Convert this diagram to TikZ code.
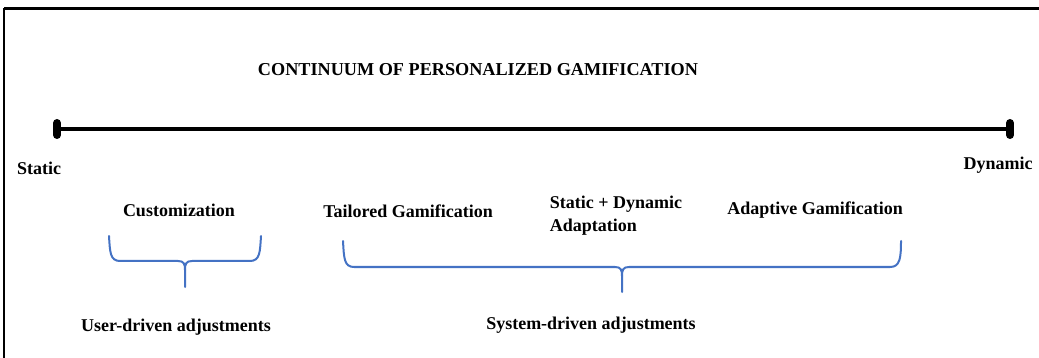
\documentclass[tikz,border=0pt]{standalone}
\usepackage{fontspec}
\setmainfont{Liberation Serif}
\definecolor{braceblue}{RGB}{68,114,196}
\begin{document}
\begin{tikzpicture}[x=1pt,y=-1pt,
  lbl/.style={font=\fontsize{18}{20}\selectfont\bfseries, inner sep=0pt, text=black},
  bracepath/.style={draw=braceblue, line width=2pt, line cap=round, line join=round},
  axis/.style={draw=black, line width=4pt},
  endbar/.style={draw=black, line width=8pt, line cap=round}]
\useasboundingbox (0,0) rectangle (1039,358);
\fill[white] (0,0) rectangle (1039,358);
% frame
\draw[line width=3pt] (4,9) -- (1039,9);
\draw[line width=2pt] (4,8) -- (4,358);
% title
\node[lbl, font=\fontsize{18.2}{20}\selectfont\bfseries] (title) at (478,70) {CONTINUUM OF PERSONALIZED GAMIFICATION};
% axis
\coordinate (s1) at (57,123);
\coordinate (s2) at (57,135);
\coordinate (d1) at (1010,123);
\coordinate (d2) at (1010,135);
\coordinate (a) at (57,129.5);
\coordinate (b) at (1010,129.5);
\draw[axis] (a) -- (b);
\draw[endbar] (s1) -- (s2);
\draw[endbar] (d1) -- (d2);
\node[lbl] (static) at (39,168) {Static};
\node[lbl] (dynamic) at (998,165) {Dynamic};
% labels
\node[lbl] (cust) at (179,210) {Customization};
\node[lbl] (tail) at (408,211) {Tailored Gamification};
\node[lbl, align=left, font=\fontsize{18}{23}\selectfont\bfseries] (sd) at (616,216) {Static + Dynamic\\Adaptation};
\node[lbl] (adapt) at (815,210) {Adaptive Gamification};
% small brace
\draw[bracepath] (109,236) .. controls (110,252) and (110,261) .. (120,261)
  -- (178,261) .. controls (184,261) and (185,264) .. (185,270) -- (185,287);
\draw[bracepath] (261,236) .. controls (260,252) and (260,261) .. (250,261)
  -- (192,261) .. controls (186,261) and (185,264) .. (185,270);
% big brace
\draw[bracepath] (343,241) .. controls (344,258) and (344,267) .. (354,267)
  -- (615,267) .. controls (621,267) and (622,270) .. (622,276) -- (622,292);
\draw[bracepath] (901,241) .. controls (901,258) and (900,267) .. (890,267)
  -- (629,267) .. controls (623,267) and (622,270) .. (622,276);
% bottom labels
\node[lbl] (user) at (176,327) {User-driven adjustments};
\node[lbl] (system) at (591,325) {System-driven adjustments};
\end{tikzpicture}
\end{document}
